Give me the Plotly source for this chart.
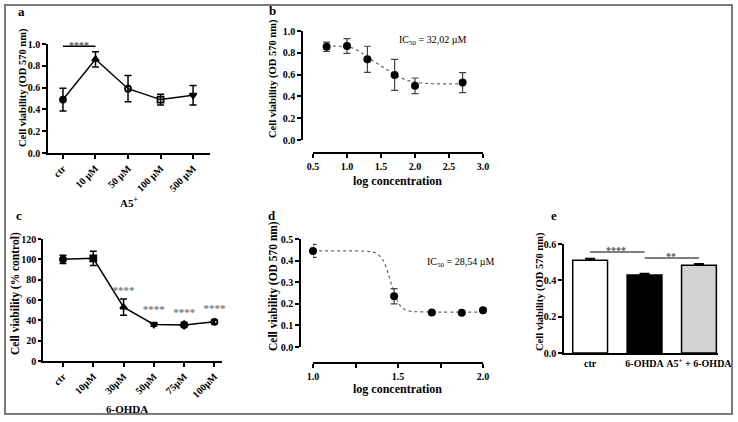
import plotly.graph_objects as go

W, H = 738, 422
SERIF = "Liberation Serif"

# ---------- data ----------
# panel a
cats_a = ["ctr", "10 µM", "50 µM", "100 µM", "500 µM"]
vals_a = [0.49, 0.86, 0.59, 0.49, 0.53]
err_a = [0.105, 0.07, 0.12, 0.05, 0.09]
sym_a = ["circle", "triangle-up", "circle-open", "square-open", "triangle-down"]

# panel b
logc_b = [0.70, 1.00, 1.30, 1.70, 2.00, 2.70]
vals_b = [0.855, 0.862, 0.74, 0.597, 0.497, 0.527]
err_b = [0.043, 0.068, 0.12, 0.142, 0.072, 0.092]
fit_b_x = [0.7, 0.9, 1.0, 1.1, 1.2, 1.3, 1.4, 1.5, 1.6, 1.7, 1.8, 1.9, 2.0, 2.2, 2.4, 2.7]
fit_b_y = [0.862, 0.86, 0.856, 0.84, 0.805, 0.762, 0.72, 0.68, 0.64, 0.60, 0.57, 0.545, 0.53, 0.518, 0.515, 0.515]

# panel c
cats_c = ["ctr", "10µM", "30µM", "50µM", "75µM", "100µM"]
vals_c = [100, 101, 53, 36, 35.5, 38.5]
err_c = [4, 7, 8, 1.8, 2.5, 1.5]
sym_c = ["circle", "square", "triangle-up", "triangle-down", "diamond", "circle-open"]
stars_c = ["", "", "****", "****", "****", "****"]
stars_c_y = [0, 0, 69, 50, 47, 51]

# panel d
logc_d = [1.00, 1.477, 1.699, 1.875, 2.00]
vals_d = [0.445, 0.235, 0.16, 0.158, 0.17]
err_d = [0.03, 0.035, 0.004, 0.006, 0.004]
fit_d_x = [1.0, 1.2, 1.3, 1.35, 1.38, 1.41, 1.43, 1.45, 1.47, 1.49, 1.51, 1.53, 1.56, 1.6, 1.7, 2.0]
fit_d_y = [0.445, 0.445, 0.444, 0.44, 0.43, 0.405, 0.37, 0.32, 0.27, 0.225, 0.195, 0.178, 0.168, 0.164, 0.162, 0.162]

# panel e
cats_e = ["ctr", "6-OHDA", "A5<sup>+</sup> + 6-OHDA"]
vals_e = [0.51, 0.43, 0.483]
err_e = [0.01, 0.008, 0.008]
colors_e = ["white", "black", "#d3d3d3"]


def px(x):
    return x / W


def py(y):
    return 1 - y / H


fig = go.Figure()

tickfont = dict(family=SERIF, size=10, color="black", weight="bold")
axc = dict(showline=True, linecolor="black", linewidth=1.5, ticks="outside",
           ticklen=4, tickwidth=1.5, tickcolor="black", showgrid=False,
           zeroline=False, tickfont=tickfont, automargin=False)

# ---- panel a ----
xa = list(range(len(cats_a)))
fig.add_trace(go.Scatter(
    x=xa, y=vals_a, mode="lines+markers", xaxis="x", yaxis="y",
    line=dict(color="black", width=1.5),
    marker=dict(symbol=sym_a, size=6, color="black", line=dict(color="black", width=1.8)),
    error_y=dict(type="data", array=err_a, color="black", thickness=1.5, width=3.5),
    cliponaxis=False, showlegend=False))

# ---- panel b ----
fig.add_trace(go.Scatter(
    x=fit_b_x, y=fit_b_y, mode="lines", xaxis="x2", yaxis="y2",
    line=dict(color="#666666", width=1.2, dash="dot", shape="spline"),
    showlegend=False))
fig.add_trace(go.Scatter(
    x=logc_b, y=vals_b, mode="markers", xaxis="x2", yaxis="y2",
    marker=dict(symbol="circle", size=8, color="black"),
    error_y=dict(type="data", array=err_b, color="#444444", thickness=1.2, width=3.5),
    cliponaxis=False, showlegend=False))

# ---- panel c ----
xc = list(range(len(cats_c)))
fig.add_trace(go.Scatter(
    x=xc, y=vals_c, mode="lines+markers", xaxis="x3", yaxis="y3",
    line=dict(color="black", width=1.5),
    marker=dict(symbol=sym_c, size=6, color="black", line=dict(color="black", width=1.8)),
    error_y=dict(type="data", array=err_c, color="black", thickness=1.5, width=3.5),
    cliponaxis=False, showlegend=False))
fig.add_trace(go.Scatter(
    x=xc, y=stars_c_y, mode="text", text=stars_c, xaxis="x3", yaxis="y3",
    textfont=dict(family=SERIF, size=11, color="#7a7a7a", weight="bold"),
    textposition="middle center", cliponaxis=False, showlegend=False))

# ---- panel d ----
fig.add_trace(go.Scatter(
    x=fit_d_x, y=fit_d_y, mode="lines", xaxis="x4", yaxis="y4",
    line=dict(color="#666666", width=1.2, dash="dot", shape="spline"),
    showlegend=False))
fig.add_trace(go.Scatter(
    x=logc_d, y=vals_d, mode="markers", xaxis="x4", yaxis="y4",
    marker=dict(symbol="circle", size=8, color="black"),
    error_y=dict(type="data", array=err_d, color="#444444", thickness=1.2, width=3.5),
    cliponaxis=False, showlegend=False))

# ---- panel e ----
xe = list(range(len(cats_e)))
fig.add_trace(go.Bar(
    x=xe, y=vals_e, xaxis="x5", yaxis="y5", width=0.64,
    marker=dict(color=colors_e, line=dict(color="black", width=1.5)),
    error_y=dict(type="data", array=err_e, arrayminus=[0] * len(err_e),
                 symmetric=False, color="black", thickness=1.5, width=5),
    showlegend=False))

fig.update_layout(
    width=W, height=H, margin=dict(l=0, r=0, t=0, b=0, autoexpand=False),
    paper_bgcolor="white", plot_bgcolor="white",
    xaxis=dict(axc, domain=[px(48), px(210)], range=[-0.46, 4.52], anchor="y",
               tickvals=xa, ticktext=cats_a, tickangle=-45),
    yaxis=dict(axc, domain=[py(153), py(44)], range=[0, 1.0], anchor="x",
               dtick=0.2, tickformat=".1f"),
    xaxis2=dict(axc, domain=[px(313), px(483)], range=[0.5, 3.0], anchor="free",
                position=py(153), dtick=0.5, tickformat=".1f"),
    yaxis2=dict(axc, domain=[py(140), py(31)], range=[0, 1.0], anchor="free",
                position=px(302), dtick=0.2, tickformat=".1f"),
    xaxis3=dict(axc, domain=[px(43), px(222)], range=[-0.66, 5.25], anchor="y3",
                tickvals=xc, ticktext=cats_c, tickangle=-45),
    yaxis3=dict(axc, domain=[py(361), py(239)], range=[0, 120], anchor="x3",
                dtick=20, ticklen=3),
    xaxis4=dict(axc, domain=[px(313), px(483)], range=[1.0, 2.0], anchor="free",
                position=py(363), tickvals=[1.0, 1.25, 1.5, 1.75, 2.0],
                ticktext=["1.0", "", "1.5", "", "2.0"]),
    yaxis4=dict(axc, domain=[py(347), py(239)], range=[0, 0.5], anchor="free",
                position=px(300), dtick=0.1, tickformat=".1f"),
    xaxis5=dict(axc, domain=[px(564), px(718)], range=[-0.48, 2.35], anchor="y5",
                tickvals=xe, ticktext=cats_e, ticks="", tickangle=0),
    yaxis5=dict(axc, domain=[py(353), py(244)], range=[0, 0.6], anchor="x5",
                dtick=0.2, tickformat=".1f"),
)

shapes = [
    # outer frame
    dict(type="rect", xref="paper", yref="paper", x0=px(5), x1=px(732),
         y0=py(414), y1=py(5), line=dict(color="#7a7a7a", width=2)),
    # significance lines
    dict(type="line", xref="x", yref="y", x0=0, x1=1, y0=0.98, y1=0.98,
         line=dict(color="black", width=1.5)),
    dict(type="line", xref="x5", yref="y5", x0=0, x1=1, y0=0.556, y1=0.556,
         line=dict(color="black", width=1.2)),
    dict(type="line", xref="x5", yref="y5", x0=1, x1=2, y0=0.523, y1=0.523,
         line=dict(color="black", width=1.2)),
]
fig.update_layout(shapes=shapes)

ann = []


def txt(x, y, s, size=11, bold=True, angle=0, xanchor="center", color="black"):
    ann.append(dict(x=px(x), y=py(y), xref="paper", yref="paper", text=s,
                    showarrow=False, textangle=angle, xanchor=xanchor,
                    yanchor="middle",
                    font=dict(family=SERIF, size=size, color=color,
                              weight="bold" if bold else "normal")))


# panel letters
txt(21, 12, "a", 13)
txt(272, 10, "b", 13)
txt(19, 216, "c", 13)
txt(272, 215, "d", 13)
txt(554, 215, "e", 13)

# y titles
txt(23, 88, "Cell viability (OD 570 nm)", 10.5, angle=-90)
txt(273, 79, "Cell viability (OD 570 nm)", 10.5, angle=-90)
txt(15, 294, "Cell viability (% control)", 11.5, angle=-90)
txt(273, 286, "Cell viability (OD 570 nm)", 11.5, angle=-90)
txt(540, 292, "Cell viability (OD 570 nm)", 10.5, angle=-90)

# x titles
txt(129, 202, "A5<sup>+</sup>", 11)
txt(397, 181, "log concentration", 12)
txt(127, 409, "6-OHDA", 11)
txt(397, 389, "log concentration", 12)

# IC50 labels
txt(397, 41, "IC<sub>50</sub> = 32,02 µM", 10, bold=False, xanchor="left")
txt(425, 262, "IC<sub>50</sub> = 28,54 µM", 10, bold=False, xanchor="left")

# stars
txt(79, 45, "****", 10, color="#555555")
txt(616, 250, "****", 10, color="#555555")
txt(671, 256, "**", 10, color="#555555")

fig.update_layout(annotations=ann)

fig.write_html("out.html", config={"displayModeBar": False},
               post_script="document.body.style.margin='0';")
